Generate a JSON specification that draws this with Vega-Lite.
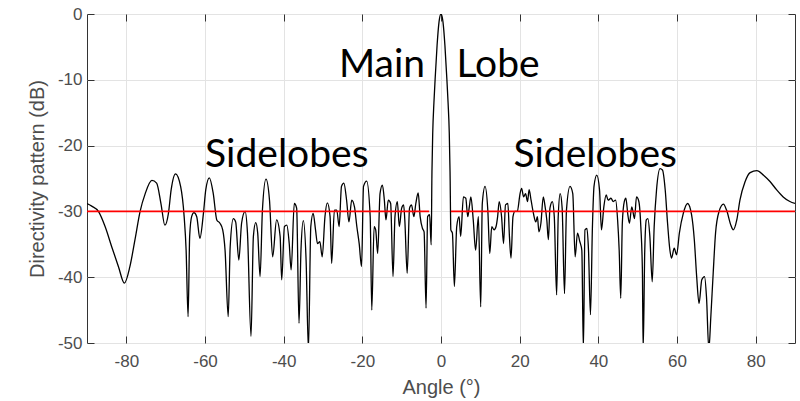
{
  "$schema": "https://vega.github.io/schema/vega-lite/v6.json",
  "width": 708,
  "height": 329,
  "autosize": {"type": "none"},
  "padding": {"left": 87, "top": 14, "right": 5, "bottom": 58},
  "background": "white",
  "config": {
    "view": {"stroke": "#333333", "strokeWidth": 1},
    "axis": {
      "labelFont": "Liberation Sans",
      "titleFont": "Liberation Sans",
      "labelFontSize": 17,
      "titleFontSize": 20,
      "titleFontWeight": "normal",
      "labelColor": "#4d4d4d",
      "titleColor": "#4d4d4d",
      "tickColor": "#333333",
      "domain": false,
      "gridColor": "#e3e3e3",
      "gridWidth": 1
    }
  },
  "datasets": {
    "pattern": [
      {"a": -90, "d": -28.8}, {"a": -88.8, "d": -29.2}, {"a": -87.1, "d": -30.0}, {"a": -85.4, "d": -32.3},
      {"a": -83.7, "d": -35.4}, {"a": -82.0, "d": -38.4}, {"a": -80.5, "d": -40.9}, {"a": -79.1, "d": -38.4},
      {"a": -77.8, "d": -34.3}, {"a": -76.5, "d": -30.0}, {"a": -75.2, "d": -27.3}, {"a": -73.5, "d": -25.3},
      {"a": -72.3, "d": -25.7}, {"a": -71.2, "d": -28.8}, {"a": -70.2, "d": -32.1}, {"a": -69.3, "d": -30.3},
      {"a": -68.6, "d": -26.7}, {"a": -67.5, "d": -24.3}, {"a": -66.2, "d": -26.2}, {"a": -65.3, "d": -30.8},
      {"a": -64.8, "d": -35.9}, {"a": -64.3, "d": -46.0}, {"a": -63.9, "d": -33.8}, {"a": -63.4, "d": -30.8},
      {"a": -62.8, "d": -30.2}, {"a": -62.1, "d": -30.8}, {"a": -61.3, "d": -34.1}, {"a": -60.4, "d": -30.3},
      {"a": -59.8, "d": -26.7}, {"a": -58.9, "d": -24.9}, {"a": -57.9, "d": -27.3}, {"a": -57.0, "d": -31.3},
      {"a": -56.2, "d": -31.8}, {"a": -55.5, "d": -32.8}, {"a": -54.9, "d": -35.9}, {"a": -54.1, "d": -46.0},
      {"a": -53.6, "d": -35.4}, {"a": -52.8, "d": -31.1}, {"a": -52.2, "d": -31.6}, {"a": -51.4, "d": -37.4},
      {"a": -50.7, "d": -31.8}, {"a": -49.8, "d": -30.0}, {"a": -49.2, "d": -33.3}, {"a": -48.3, "d": -49.0},
      {"a": -47.7, "d": -33.8}, {"a": -47.1, "d": -31.7}, {"a": -46.6, "d": -33.3}, {"a": -46.0, "d": -39.9},
      {"a": -45.4, "d": -29.8}, {"a": -44.5, "d": -25.1}, {"a": -43.6, "d": -28.3}, {"a": -42.8, "d": -36.9},
      {"a": -41.8, "d": -31.3}, {"a": -40.9, "d": -33.8}, {"a": -40.5, "d": -40.4}, {"a": -39.8, "d": -32.3},
      {"a": -39.2, "d": -32.1}, {"a": -38.6, "d": -34.8}, {"a": -38.1, "d": -38.9}, {"a": -37.3, "d": -28.8},
      {"a": -36.7, "d": -29.5}, {"a": -36.1, "d": -47.0}, {"a": -35.6, "d": -35.9}, {"a": -35.0, "d": -31.4},
      {"a": -34.3, "d": -37.4}, {"a": -33.7, "d": -51.0}, {"a": -33.1, "d": -32.3}, {"a": -32.5, "d": -30.3},
      {"a": -31.9, "d": -32.8}, {"a": -31.4, "d": -34.9}, {"a": -30.8, "d": -34.6}, {"a": -30.2, "d": -36.9},
      {"a": -29.5, "d": -30.8}, {"a": -28.9, "d": -28.7}, {"a": -28.2, "d": -30.8}, {"a": -27.8, "d": -37.9},
      {"a": -27.1, "d": -29.8}, {"a": -26.5, "d": -29.8}, {"a": -25.9, "d": -32.3}, {"a": -25.3, "d": -26.2},
      {"a": -24.7, "d": -25.7}, {"a": -24.0, "d": -28.3}, {"a": -23.4, "d": -31.6}, {"a": -22.7, "d": -28.3},
      {"a": -22.0, "d": -29.3}, {"a": -21.4, "d": -32.3}, {"a": -20.8, "d": -34.9}, {"a": -20.2, "d": -38.4},
      {"a": -19.7, "d": -26.2}, {"a": -18.9, "d": -25.4}, {"a": -18.0, "d": -30.8}, {"a": -17.6, "d": -45.0},
      {"a": -17.0, "d": -32.3}, {"a": -16.6, "d": -32.8}, {"a": -16.1, "d": -36.4}, {"a": -15.5, "d": -27.3},
      {"a": -14.9, "d": -26.0}, {"a": -14.4, "d": -28.3}, {"a": -14.0, "d": -31.3}, {"a": -13.4, "d": -28.3},
      {"a": -12.8, "d": -28.8}, {"a": -12.2, "d": -39.9}, {"a": -11.7, "d": -30.8}, {"a": -11.1, "d": -28.5},
      {"a": -10.6, "d": -32.3}, {"a": -10.0, "d": -29.5}, {"a": -9.5, "d": -29.0}, {"a": -9.2, "d": -31.3},
      {"a": -8.6, "d": -39.4}, {"a": -8.0, "d": -29.5}, {"a": -7.5, "d": -29.0}, {"a": -6.9, "d": -30.8},
      {"a": -6.4, "d": -28.8}, {"a": -5.8, "d": -27.2}, {"a": -5.3, "d": -30.8}, {"a": -4.7, "d": -32.6},
      {"a": -4.3, "d": -33.1}, {"a": -3.8, "d": -44.7}, {"a": -3.4, "d": -30.8}, {"a": -2.9, "d": -30.5},
      {"a": -2.5, "d": -35.1}, {"a": -2.3, "d": -24.0}, {"a": -2.1, "d": -18.0}, {"a": -1.8, "d": -13.5},
      {"a": -1.5, "d": -10.0}, {"a": -1.0, "d": -4.8}, {"a": -0.5, "d": -1.2}, {"a": 0, "d": 0},
      {"a": 0.5, "d": -1.2}, {"a": 1.0, "d": -4.8}, {"a": 1.5, "d": -10.0}, {"a": 1.8, "d": -13.5},
      {"a": 2.1, "d": -18.0}, {"a": 2.3, "d": -24.0}, {"a": 2.5, "d": -32.8}, {"a": 2.9, "d": -33.3},
      {"a": 3.4, "d": -41.4}, {"a": 4.0, "d": -32.3}, {"a": 4.6, "d": -30.8}, {"a": 5.0, "d": -33.8},
      {"a": 5.7, "d": -27.8}, {"a": 6.3, "d": -28.0}, {"a": 6.8, "d": -30.8}, {"a": 7.2, "d": -29.3},
      {"a": 7.6, "d": -27.8}, {"a": 8.2, "d": -31.3}, {"a": 8.8, "d": -35.9}, {"a": 9.5, "d": -30.8},
      {"a": 10.1, "d": -44.5}, {"a": 10.5, "d": -28.8}, {"a": 11.2, "d": -26.2}, {"a": 11.9, "d": -29.8},
      {"a": 12.4, "d": -36.4}, {"a": 12.9, "d": -32.3}, {"a": 13.5, "d": -32.8}, {"a": 14.0, "d": -32.3},
      {"a": 14.4, "d": -30.8}, {"a": 14.8, "d": -28.5}, {"a": 15.4, "d": -30.8}, {"a": 15.9, "d": -34.9},
      {"a": 16.4, "d": -29.0}, {"a": 17.0, "d": -28.8}, {"a": 17.4, "d": -33.8}, {"a": 17.8, "d": -37.1},
      {"a": 18.3, "d": -30.8}, {"a": 18.8, "d": -30.0}, {"a": 19.4, "d": -30.0}, {"a": 20.1, "d": -27.3},
      {"a": 20.5, "d": -26.5}, {"a": 21.0, "d": -27.8}, {"a": 21.5, "d": -27.3}, {"a": 22.0, "d": -28.5},
      {"a": 22.4, "d": -26.7}, {"a": 22.9, "d": -28.3}, {"a": 23.5, "d": -30.3}, {"a": 24.1, "d": -31.6},
      {"a": 24.5, "d": -30.8}, {"a": 24.9, "d": -33.1}, {"a": 25.4, "d": -31.8}, {"a": 26.0, "d": -27.8},
      {"a": 26.4, "d": -29.0}, {"a": 26.9, "d": -31.3}, {"a": 27.3, "d": -34.3}, {"a": 27.7, "d": -29.5},
      {"a": 28.3, "d": -28.5}, {"a": 28.8, "d": -30.8}, {"a": 29.4, "d": -42.7}, {"a": 29.8, "d": -30.8},
      {"a": 30.3, "d": -27.3}, {"a": 30.8, "d": -29.5}, {"a": 31.4, "d": -42.5}, {"a": 31.9, "d": -29.8},
      {"a": 32.8, "d": -26.2}, {"a": 33.5, "d": -27.3}, {"a": 34.1, "d": -36.9}, {"a": 34.7, "d": -33.3},
      {"a": 35.3, "d": -34.6}, {"a": 35.8, "d": -35.9}, {"a": 36.2, "d": -51.0}, {"a": 36.6, "d": -32.8},
      {"a": 37.1, "d": -32.6}, {"a": 37.5, "d": -35.9}, {"a": 38.0, "d": -45.7}, {"a": 38.5, "d": -32.3},
      {"a": 38.9, "d": -26.2}, {"a": 39.6, "d": -24.5}, {"a": 40.3, "d": -26.7}, {"a": 40.8, "d": -32.8},
      {"a": 41.4, "d": -29.3}, {"a": 42.0, "d": -27.5}, {"a": 42.5, "d": -28.3}, {"a": 43.2, "d": -28.0},
      {"a": 43.8, "d": -28.5}, {"a": 44.4, "d": -28.3}, {"a": 44.9, "d": -31.3}, {"a": 45.3, "d": -35.9},
      {"a": 45.7, "d": -43.2}, {"a": 46.1, "d": -31.8}, {"a": 46.6, "d": -28.5}, {"a": 47.0, "d": -28.0},
      {"a": 47.5, "d": -30.5}, {"a": 47.9, "d": -31.8}, {"a": 48.5, "d": -29.3}, {"a": 49.2, "d": -31.1},
      {"a": 49.7, "d": -27.8}, {"a": 50.3, "d": -28.5}, {"a": 50.8, "d": -32.3}, {"a": 51.2, "d": -38.9},
      {"a": 51.4, "d": -51.0}, {"a": 51.8, "d": -36.0}, {"a": 52.2, "d": -31.3}, {"a": 52.6, "d": -31.1},
      {"a": 53.1, "d": -33.8}, {"a": 53.7, "d": -40.7}, {"a": 54.2, "d": -32.3}, {"a": 54.8, "d": -26.7},
      {"a": 55.7, "d": -23.5}, {"a": 56.3, "d": -23.7}, {"a": 57.0, "d": -26.7}, {"a": 57.6, "d": -31.8},
      {"a": 58.2, "d": -35.9}, {"a": 58.6, "d": -37.1}, {"a": 59.3, "d": -35.6}, {"a": 59.9, "d": -36.6},
      {"a": 60.6, "d": -33.3}, {"a": 61.6, "d": -30.3}, {"a": 62.7, "d": -28.8}, {"a": 63.7, "d": -30.5},
      {"a": 64.4, "d": -34.3}, {"a": 65.0, "d": -39.9}, {"a": 65.6, "d": -44.0}, {"a": 66.3, "d": -40.4},
      {"a": 67.0, "d": -39.9}, {"a": 67.5, "d": -43.0}, {"a": 68.1, "d": -51.0}, {"a": 68.6, "d": -46.0},
      {"a": 69.2, "d": -39.4}, {"a": 69.8, "d": -33.3}, {"a": 70.7, "d": -30.0}, {"a": 71.8, "d": -28.9},
      {"a": 72.6, "d": -29.8}, {"a": 73.7, "d": -32.1}, {"a": 74.3, "d": -32.8}, {"a": 75.2, "d": -31.3},
      {"a": 76.0, "d": -28.3}, {"a": 77.3, "d": -25.5}, {"a": 78.6, "d": -24.1}, {"a": 80.3, "d": -23.8},
      {"a": 82.0, "d": -24.5}, {"a": 83.7, "d": -25.5}, {"a": 85.3, "d": -26.7}, {"a": 87.0, "d": -27.8},
      {"a": 88.7, "d": -28.5}, {"a": 90, "d": -28.8}
    ],
    "threshold": [
      {"a1": -90, "a2": -3.0, "d": -30},
      {"a1": 2.5, "a2": 90, "d": -30}
    ],
    "notes": [
      {"a": -15.0, "d": -9.6, "t": "Main"},
      {"a": 14.5, "d": -9.6, "t": "Lobe"},
      {"a": -39.2, "d": -23.2, "t": "Sidelobes"},
      {"a": 39.2, "d": -23.2, "t": "Sidelobes"}
    ]
  },
  "layer": [
    {
      "data": {"name": "pattern"},
      "mark": {"type": "line", "color": "#000000", "strokeWidth": 1.3, "clip": true, "interpolate": "monotone"},
      "encoding": {
        "x": {
          "field": "a", "type": "quantitative",
          "scale": {"domain": [-90, 90], "nice": false, "zero": false},
          "axis": {"values": [-80, -60, -40, -20, 0, 20, 40, 60, 80], "labelExpr": "'' + datum.value", "grid": true, "tickSize": -7, "labelPadding": 17, "title": "Angle (°)", "titlePadding": 8}
        },
        "y": {
          "field": "d", "type": "quantitative",
          "scale": {"domain": [-50, 0], "nice": false, "zero": false},
          "axis": {"values": [-50, -40, -30, -20, -10, 0], "labelExpr": "'' + datum.value", "grid": true, "tickSize": -7, "labelPadding": 12, "title": "Directivity pattern (dB)", "titlePadding": 10}
        }
      }
    },
    {
      "data": {"name": "threshold"},
      "mark": {"type": "rule", "color": "#ff0000", "strokeWidth": 1.6},
      "encoding": {
        "x": {"field": "a1", "type": "quantitative", "axis": {"orient": "top", "values": [-80, -60, -40, -20, 0, 20, 40, 60, 80], "labels": false, "grid": false, "tickSize": -7, "title": null}},
        "x2": {"field": "a2"},
        "y": {"field": "d", "type": "quantitative", "axis": {"orient": "right", "values": [-50, -40, -30, -20, -10, 0], "labels": false, "grid": false, "tickSize": -7, "title": null}}
      }
    },
    {
      "data": {"name": "notes"},
      "mark": {"type": "text", "font": "Lato", "fontSize": 39, "color": "#000000", "align": "center", "baseline": "alphabetic"},
      "encoding": {
        "x": {"field": "a", "type": "quantitative", "axis": null},
        "y": {"field": "d", "type": "quantitative", "axis": null},
        "text": {"field": "t"}
      }
    }
  ],
  "resolve": {"axis": {"x": "independent", "y": "independent"}}
}
